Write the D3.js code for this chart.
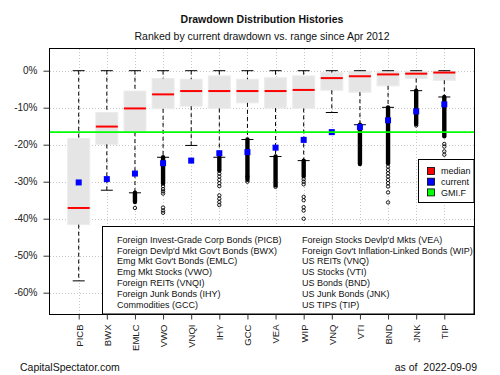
<!DOCTYPE html>
<html>
<head>
<meta charset="utf-8">
<script src="https://cdn.jsdelivr.net/npm/d3@7/dist/d3.min.js"></script>
<style>
  html, body { margin: 0; padding: 0; background: #fff; }
  svg { display: block; font-family: "Liberation Sans", Arial, sans-serif; }
</style>
</head>
<body>
<svg id="chart" width="500" height="375"></svg>
<script>
// ---- data (percent drawdown) ----
const categories = ["PICB","BWX","EMLC","VWO","VNQI","IHY","GCC","VEA","WIP","VNQ","VTI","BND","JNK","TIP"];
const whiskerHigh = [0,0,0,0,0,0,0,0,0,0,0,0,0,0];
const boxTop     = [-18.3,-11.3,-5.5,-2.1,-2.3,-1.4,-2.3,-1.9,-1.4,-0.5,-0.1,-0.1,-0.1,-0.1];
const medians    = [-37.1,-15.1,-10.2,-6.4,-5.5,-5.5,-5.5,-5.5,-5.2,-2.0,-1.5,-1.0,-0.8,-0.5];
const boxBottom  = [-41.6,-19.9,-16.6,-10.3,-9.6,-10.2,-8.7,-10.1,-10.2,-5.3,-5.8,-4.1,-2.1,-2.6];
const whiskerLow = [-56.8,-32.3,-33.0,-23.4,-20.2,-23.4,-18.6,-23.2,-24.3,-11.3,-14.6,-9.9,-5.4,-7.1];
const current    = [-30.2,-29.3,-27.8,-25.0,-24.3,-22.3,-22.0,-20.8,-18.7,-16.6,-15.2,-13.4,-11.0,-9.1];
const gmif = -16.6;
// dense outlier runs [from, to] per category (null = none)
const outlierRuns = [null, null, [-33.0,-35.5], [-23.4,-30.5], null, [-23.4,-27.0], [-18.6,-29.5],
                     [-23.2,-31.0], [-24.3,-28.5], null, [-14.6,-25.2], [-9.9,-25.0], [-5.4,-14.4], [-7.1,-17.7]];
// separate outliers per category
const outliers = [
  [], [], [-37.1],
  [-31.2,-32.0,-32.6,-33.2,-37.0,-37.8,-38.4],
  [],
  [-27.8,-28.6,-29.5,-30.4,-31.2,-33.7,-34.6,-35.5,-36.3],
  [-28.6,-30.0],
  [-31.4],
  [-29.3,-30.0,-30.7,-34.1,-35.0,-36.9,-37.8,-40.0,-42.7],
  [],
  [],
  [-25.9,-26.8,-27.7,-28.6,-29.5,-30.4,-31.3,-32.9,-35.6],
  [-14.8],
  [-19.8,-20.5,-21.8,-22.7]
];
const yTicks = [0,-10,-20,-30,-40,-50,-60];
const legendLeft = ["Foreign Invest-Grade Corp Bonds (PICB)","Foreign Devlp'd Mkt Gov't Bonds (BWX)",
  "Emg Mkt Gov't Bonds (EMLC)","Emg Mkt Stocks (VWO)","Foreign REITs (VNQI)","Foreign Junk Bonds (IHY)","Commodities (GCC)"];
const legendRight = ["Foreign Stocks Devlp'd Mkts (VEA)","Foreign Gov't Inflation-Linked Bonds (WIP)",
  "US REITs (VNQ)","US Stocks (VTI)","US Bonds (BND)","US Junk Bonds (JNK)","US TIPS (TIP)"];
const keyLabels = ["median","current","GMI.F"];
const keyColors = ["#ff0000","#0000ff","#00ff00"];

// ---- layout ----
const svg = d3.select("#chart");
const P = {l: 50, r: 474, t: 49, b: 314};
const x = d3.scalePoint().domain(categories).range([78.7, 444.3]);
const y = d3.scaleLinear().domain([0, -60]).range([70.7, 292.7]);
const bw = 11, cw = 6;

svg.append("rect").attr("width",500).attr("height",375).attr("fill","#fff");

// grid
const grid = svg.append("g").attr("stroke","#c8c8c8").attr("stroke-dasharray","1,2").attr("stroke-width",1);
grid.selectAll("line.h").data(yTicks).join("line")
  .attr("x1",P.l).attr("x2",P.r).attr("y1",d=>Math.round(y(d))+0.5).attr("y2",d=>Math.round(y(d))+0.5);
grid.selectAll("line.v").data(categories).join("line")
  .attr("y1",P.t).attr("y2",P.b).attr("x1",d=>Math.round(x(d))+0.5).attr("x2",d=>Math.round(x(d))+0.5);

// boxes
const idx = d3.range(categories.length);
const g = svg.append("g");
g.selectAll("rect.box").data(idx).join("rect")
  .attr("x",i=>x(categories[i])-bw).attr("width",2*bw)
  .attr("y",i=>y(boxTop[i])).attr("height",i=>y(boxBottom[i])-y(boxTop[i]))
  .attr("fill","#e5e5e5").attr("stroke","#ececec").attr("stroke-width",1);
// whiskers
g.selectAll("line.wu").data(idx).join("line")
  .attr("x1",i=>x(categories[i])).attr("x2",i=>x(categories[i]))
  .attr("y1",i=>y(whiskerHigh[i])).attr("y2",i=>y(boxTop[i]))
  .attr("stroke","#000").attr("stroke-dasharray","4,3");
g.selectAll("line.wl").data(idx).join("line")
  .attr("x1",i=>x(categories[i])).attr("x2",i=>x(categories[i]))
  .attr("y1",i=>y(boxBottom[i])).attr("y2",i=>y(whiskerLow[i]))
  .attr("stroke","#000").attr("stroke-dasharray","4,3");
g.selectAll("line.cu").data(idx).join("line")
  .attr("x1",i=>x(categories[i])-cw).attr("x2",i=>x(categories[i])+cw)
  .attr("y1",i=>y(whiskerHigh[i])).attr("y2",i=>y(whiskerHigh[i])).attr("stroke","#000");
g.selectAll("line.cl").data(idx).join("line")
  .attr("x1",i=>x(categories[i])-cw).attr("x2",i=>x(categories[i])+cw)
  .attr("y1",i=>y(whiskerLow[i])).attr("y2",i=>y(whiskerLow[i])).attr("stroke","#000");
// medians
g.selectAll("line.med").data(idx).join("line")
  .attr("x1",i=>x(categories[i])-bw).attr("x2",i=>x(categories[i])+bw)
  .attr("y1",i=>y(medians[i])).attr("y2",i=>y(medians[i]))
  .attr("stroke","#ff0000").attr("stroke-width",2);
// outliers
g.selectAll("line.run").data(idx.filter(i=>outlierRuns[i])).join("line")
  .attr("x1",i=>x(categories[i])).attr("x2",i=>x(categories[i]))
  .attr("y1",i=>y(outlierRuns[i][0])).attr("y2",i=>y(outlierRuns[i][1]))
  .attr("stroke","#000").attr("stroke-width",4.4).attr("stroke-linecap","round");
const pts = [];
idx.forEach(i=>outliers[i].forEach(v=>pts.push({c:categories[i],v})));
g.selectAll("circle.out").data(pts).join("circle")
  .attr("cx",d=>x(d.c)).attr("cy",d=>y(d.v)).attr("r",1.7)
  .attr("fill","none").attr("stroke","#000").attr("stroke-width",0.9);

// GMI.F line
svg.append("line").attr("x1",P.l).attr("x2",P.r).attr("y1",y(gmif)).attr("y2",y(gmif))
  .attr("stroke","#00ff00").attr("stroke-width",1.6);

// current
g.selectAll("rect.cur").data(idx).join("rect")
  .attr("x",i=>x(categories[i])-3).attr("y",i=>y(current[i])-3)
  .attr("width",6).attr("height",6).attr("fill","#0000ff");

// bottom legend
const L = svg.append("g");
L.append("rect").attr("x",102.5).attr("y",226.5).attr("width",P.r-102.5).attr("height",P.b-226.5)
  .attr("fill","#fff").attr("stroke","#000");
L.selectAll("text.ll").data(legendLeft).join("text")
  .attr("x",117).attr("y",(d,i)=>239.5+i*10.9).attr("dy","0.35em")
  .attr("font-size",9).attr("fill","#111").text(d=>d);
L.selectAll("text.lr").data(legendRight).join("text")
  .attr("x",302).attr("y",(d,i)=>239.5+i*10.9).attr("dy","0.35em")
  .attr("font-size",9).attr("fill","#111").text(d=>d);

// key legend
const K = svg.append("g");
K.append("rect").attr("x",418.5).attr("y",159.5).attr("width",P.r-418.5).attr("height",43)
  .attr("fill","#fff").attr("stroke","#000");
K.selectAll("rect.sw").data(keyLabels).join("rect")
  .attr("x",427.5).attr("y",(d,i)=>167.5+i*10.7).attr("width",7).attr("height",7)
  .attr("fill",(d,i)=>keyColors[i]).attr("stroke","#000").attr("stroke-width",0.8);
K.selectAll("text").data(keyLabels).join("text")
  .attr("x",441).attr("y",(d,i)=>171+i*10.7).attr("dy","0.35em")
  .attr("font-size",9).attr("fill","#111").text(d=>d);

// plot frame
svg.append("rect").attr("x",P.l-0.5).attr("y",P.t-0.5).attr("width",P.r-P.l+1).attr("height",P.b-P.t+1)
  .attr("fill","none").attr("stroke","#000");

// axes
const ya = svg.append("g").attr("transform",`translate(${P.l-0.5},0)`)
  .call(d3.axisLeft(y).tickValues(yTicks).tickSize(6).tickPadding(6).tickFormat(d=>d+"%"));
ya.select(".domain").remove();
ya.selectAll("text").attr("font-size",10).attr("fill","#222").attr("font-family","Liberation Sans, Arial, sans-serif");
ya.selectAll("line").attr("stroke","#333");

const xa = svg.append("g").attr("transform",`translate(0,${P.b+0.5})`)
  .call(d3.axisBottom(x).tickSize(5).tickFormat(d=>d));
xa.select(".domain").remove();
xa.selectAll("line").attr("stroke","#333");
xa.selectAll("text").attr("font-size",9.5).attr("fill","#222").attr("font-family","Liberation Sans, Arial, sans-serif")
  .attr("transform","rotate(-90)").attr("text-anchor","end")
  .attr("x",-10).attr("y",0).attr("dy","0.35em");

// titles
svg.append("text").attr("x",262).attr("y",23).attr("text-anchor","middle")
  .attr("font-size",10.5).attr("font-weight","bold").attr("fill","#111").text("Drawdown Distribution Histories");
svg.append("text").attr("x",262).attr("y",40).attr("text-anchor","middle")
  .attr("font-size",10.5).attr("fill","#111").text("Ranked by current drawdown vs. range since Apr 2012");
svg.append("text").attr("x",20).attr("y",371).attr("font-size",10.5).attr("fill","#111").text("CapitalSpectator.com");
svg.append("text").attr("x",477).attr("y",371).attr("text-anchor","end").attr("font-size",10.5).attr("fill","#111")
  .attr("xml:space","preserve").text("as of  2022-09-09");
</script>
</body>
</html>
